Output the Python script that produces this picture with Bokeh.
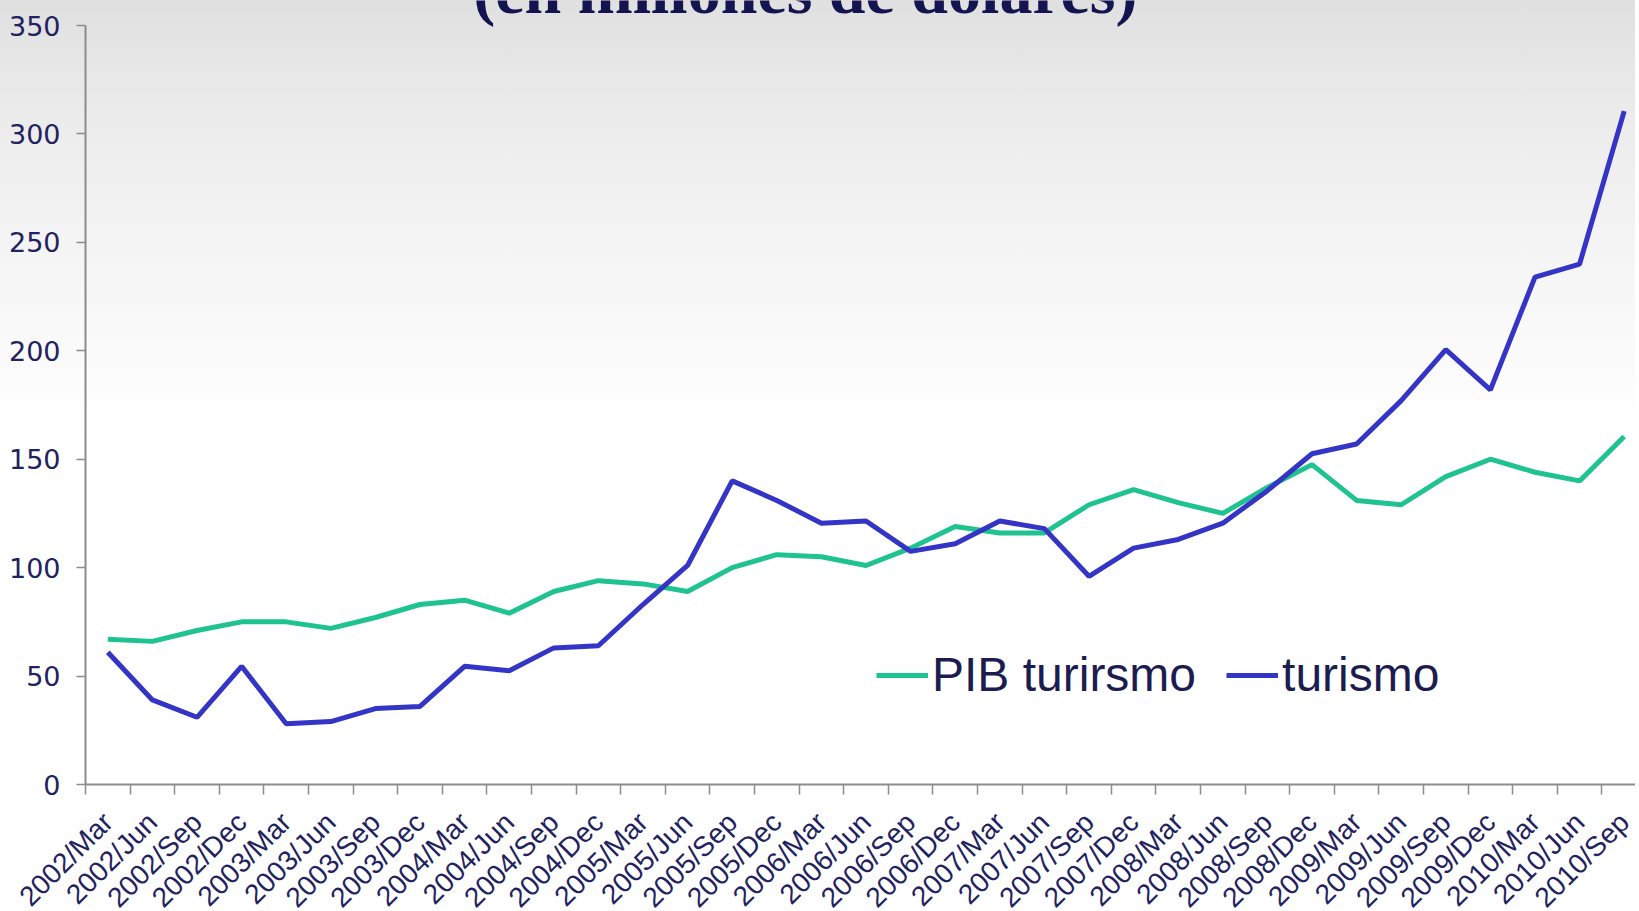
import math
from bokeh.plotting import figure
from bokeh.models import Range1d, FixedTicker, Legend, LegendItem, Label
from bokeh.embed import file_html
from bokeh.resources import INLINE

quarters = ["2002/Mar", "2002/Jun", "2002/Sep", "2002/Dec",
            "2003/Mar", "2003/Jun", "2003/Sep", "2003/Dec",
            "2004/Mar", "2004/Jun", "2004/Sep", "2004/Dec",
            "2005/Mar", "2005/Jun", "2005/Sep", "2005/Dec",
            "2006/Mar", "2006/Jun", "2006/Sep", "2006/Dec",
            "2007/Mar", "2007/Jun", "2007/Sep", "2007/Dec",
            "2008/Mar", "2008/Jun", "2008/Sep", "2008/Dec",
            "2009/Mar", "2009/Jun", "2009/Sep", "2009/Dec",
            "2010/Mar", "2010/Jun", "2010/Sep"]

pib_turismo = [67, 66, 71, 75, 75, 72, 77, 83, 85, 79, 89, 94,
               92.5, 89, 100, 106, 105, 101, 109, 119, 116, 116, 129, 136,
               130, 125, 137, 147.5, 131, 129, 142, 150, 144, 140, 160.5]

turismo = [61, 39, 31, 54.5, 28, 29, 35, 36, 54.5, 52.5, 63, 64,
           83, 101, 140, 131, 120.5, 121.5, 107.5, 111, 121.5, 118, 96, 109,
           113, 120.5, 135.5, 152.5, 157, 177, 200.5, 182, 234, 240, 310.5]

y_ticks = [0, 50, 100, 150, 200, 250, 300, 350]
title_text = "(en millones de dólares)"
series_names = ["PIB turirsmo", "turismo"]

n = len(quarters)
xc = [i + 0.5 for i in range(n)]

FRAME_W = 1550
FRAME_H = 784          # frame reaches the canvas top so the title can sit there
x_end = FRAME_W / 44.6
y_top = 350 * 784 / 759

p = figure(frame_width=FRAME_W, frame_height=FRAME_H,
           x_range=Range1d(0, x_end), y_range=Range1d(0, y_top),
           output_backend="svg", toolbar_location=None,
           min_border_left=85, min_border_top=0, min_border_right=0,
           min_border_bottom=100)
p.background_fill_color = None
p.border_fill_color = None
p.outline_line_color = None
p.grid.visible = False
p.styles = {"background": "linear-gradient(to bottom, #e0e0e0 0px, #ececec 120px, "
                          "#f7f7f7 290px, #ffffff 430px, #ffffff 100%)"}

r1 = p.line(xc, pib_turismo, line_color="#1ec38f", line_width=5)
r2 = p.line(xc, turismo, line_color="#3434c6", line_width=5)

label_color = "#222260"

# x axis
p.xaxis.ticker = FixedTicker(ticks=xc, minor_ticks=list(range(n + 1)))
p.xaxis.major_label_overrides = {x: q for x, q in zip(xc, quarters)}
p.xaxis.major_label_orientation = math.pi / 4
p.xaxis.major_tick_out = 0
p.xaxis.major_tick_in = 0
p.xaxis.minor_tick_out = 10
p.xaxis.minor_tick_in = 0
p.xaxis.minor_tick_line_color = "#8c8c8c"
p.xaxis.minor_tick_line_width = 1.5
p.xaxis.axis_line_color = "#8c8c8c"
p.xaxis.axis_line_width = 2
p.xaxis.major_label_text_font = "Liberation Sans"
p.xaxis.major_label_text_font_size = "28px"
p.xaxis.major_label_text_color = label_color
p.xaxis.major_label_standoff = 23

# y axis
p.yaxis.ticker = FixedTicker(ticks=y_ticks)
p.yaxis.bounds = (0, 350)
p.yaxis.minor_tick_line_color = None
p.yaxis.major_tick_out = 9
p.yaxis.major_tick_in = 0
p.yaxis.major_tick_line_color = "#8c8c8c"
p.yaxis.major_tick_line_width = 1.5
p.yaxis.axis_line_color = "#8c8c8c"
p.yaxis.axis_line_width = 2
p.yaxis.major_label_text_font = "DejaVu Sans"
p.yaxis.major_label_text_font_size = "27px"
p.yaxis.major_label_text_color = label_color
p.yaxis.major_label_standoff = 16

# title (partially cut at the top, as in the reference)
p.add_layout(Label(x=16.14, y=366.0, text=title_text, text_align="center",
                   text_baseline="alphabetic", text_font="Liberation Serif",
                   text_font_style="bold", text_font_size="66px",
                   text_color="#141450"))

legend = Legend(items=[LegendItem(label=series_names[0], renderers=[r1]),
                       LegendItem(label=series_names[1], renderers=[r2])],
                location=(791, 82), orientation="horizontal",
                label_text_font="Liberation Sans", label_text_font_size="48px",
                label_text_color="#1c1c50", glyph_width=52, glyph_height=50,
                label_height=50, label_standoff=4, spacing=30, padding=0,
                margin=0, border_line_color=None, background_fill_alpha=0)
p.add_layout(legend, "center")

open("out.html", "w").write(file_html(p, INLINE))
